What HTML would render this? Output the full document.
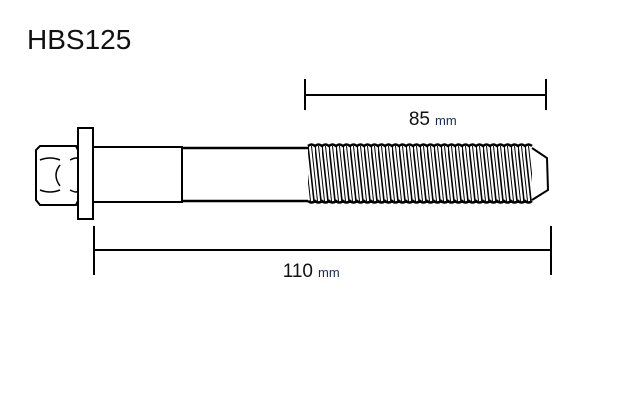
<!DOCTYPE html>
<html><head><style>
body{margin:0;background:#fff;width:640px;height:408px;overflow:hidden;position:relative;font-family:"Liberation Sans",sans-serif}
.t{position:absolute;left:27px;top:24px;font-size:28px;color:#111}
</style></head><body>
<div class="t">HBS125</div>
<svg width="640" height="408" style="position:absolute;left:0;top:0">
<defs>
<pattern id="th" x="308" y="146" width="7" height="55" patternUnits="userSpaceOnUse">
<rect width="7" height="55" fill="#fff"/>
<path d="M0 0 L6 55" stroke="#000" stroke-width="1.6"/>
<path d="M3.5 0 L9.5 55 M-3.5 0 L2.5 55" stroke="#000" stroke-width="1"/>
</pattern>
</defs>
<g stroke="#000" fill="none" stroke-width="2">
<line x1="305" y1="95" x2="546" y2="95"/>
<line x1="305" y1="79" x2="305" y2="110"/>
<line x1="546" y1="79" x2="546" y2="110"/>
<line x1="94" y1="250" x2="551" y2="250"/>
<line x1="94" y1="226" x2="94" y2="275"/>
<line x1="551" y1="226" x2="551" y2="275"/>
<path d="M40 146 L76 146 L78 150 L78 201 L76 205 L40 205 L36 200 L36 150 Z"/>
<path d="M40 160 Q50 156 60 160 M40 190 Q50 194 60 190 M60 165 Q52 175 60 186 M70 160 Q78 156 78 160 M70 190 Q78 194 78 190" stroke-width="1.5"/>
<rect x="78" y="128" width="15" height="91"/>
<rect x="93" y="147" width="89" height="55"/>
<line x1="182" y1="148" x2="308" y2="148" stroke-width="2.5"/>
<line x1="182" y1="201" x2="308" y2="201" stroke-width="2.5"/>
</g>
<rect x="308" y="146" width="224" height="55" fill="url(#th)" stroke="none"/>
<g stroke="#000" fill="none">
<path d="M308 146 q3.5 -3 7 0 q3.5 -3 7 0 q3.5 -3 7 0 q3.5 -3 7 0 q3.5 -3 7 0 q3.5 -3 7 0 q3.5 -3 7 0 q3.5 -3 7 0 q3.5 -3 7 0 q3.5 -3 7 0 q3.5 -3 7 0 q3.5 -3 7 0 q3.5 -3 7 0 q3.5 -3 7 0 q3.5 -3 7 0 q3.5 -3 7 0 q3.5 -3 7 0 q3.5 -3 7 0 q3.5 -3 7 0 q3.5 -3 7 0 q3.5 -3 7 0 q3.5 -3 7 0 q3.5 -3 7 0 q3.5 -3 7 0 q3.5 -3 7 0 q3.5 -3 7 0 q3.5 -3 7 0 q3.5 -3 7 0 q3.5 -3 7 0 q3.5 -3 7 0 q3.5 -3 7 0 q3.5 -3 7 0" stroke-width="2.5"/>
<path d="M308 201 q3.5 3 7 0 q3.5 3 7 0 q3.5 3 7 0 q3.5 3 7 0 q3.5 3 7 0 q3.5 3 7 0 q3.5 3 7 0 q3.5 3 7 0 q3.5 3 7 0 q3.5 3 7 0 q3.5 3 7 0 q3.5 3 7 0 q3.5 3 7 0 q3.5 3 7 0 q3.5 3 7 0 q3.5 3 7 0 q3.5 3 7 0 q3.5 3 7 0 q3.5 3 7 0 q3.5 3 7 0 q3.5 3 7 0 q3.5 3 7 0 q3.5 3 7 0 q3.5 3 7 0 q3.5 3 7 0 q3.5 3 7 0 q3.5 3 7 0 q3.5 3 7 0 q3.5 3 7 0 q3.5 3 7 0 q3.5 3 7 0 q3.5 3 7 0" stroke-width="2.5"/>
<path d="M532 148 L547 158 L548 190 L532 200" stroke-width="2"/>
</g>
<text x="430" y="125" font-size="19" text-anchor="end" font-family="Liberation Sans" fill="#111">85</text>
<text x="435" y="125" font-size="13" font-family="Liberation Sans" fill="#1a2a50">mm</text>
<text x="313" y="277" font-size="19" text-anchor="end" font-family="Liberation Sans" fill="#111">110</text>
<text x="318" y="277" font-size="13" font-family="Liberation Sans" fill="#1a2a50">mm</text>
</svg>
</body></html>
